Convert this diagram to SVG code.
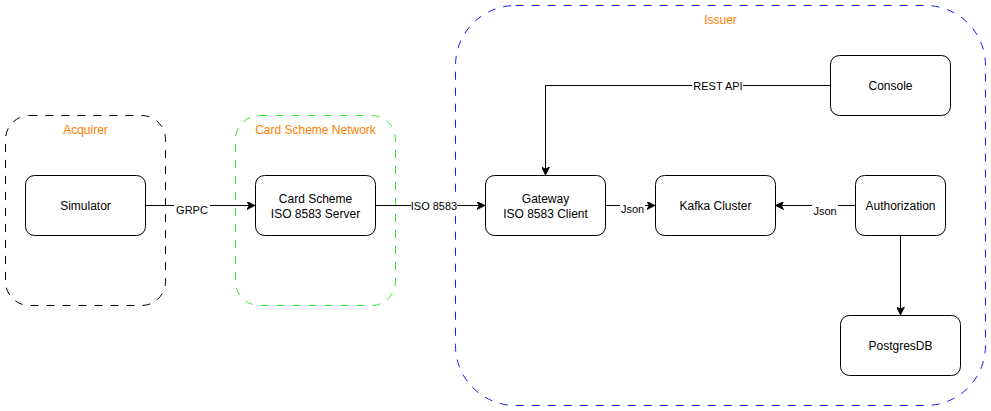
<svg xmlns="http://www.w3.org/2000/svg" width="991" height="411" viewBox="0 0 991 411">
<style>
.node{fill:#fff;stroke:#000;stroke-width:1}
.t{font-family:"Liberation Sans",Arial,sans-serif;font-size:12px;fill:#000;text-anchor:middle}
.lbl{font-family:"Liberation Sans",Arial,sans-serif;font-size:11px;fill:#000;text-anchor:middle}
.ct{font-family:"Liberation Sans",Arial,sans-serif;font-size:12px;fill:#FF8000;text-anchor:middle}
.edge{fill:none;stroke:#000;stroke-width:1}
.lb{fill:#fff}
.grp{fill:none;stroke-dasharray:8 8}
</style>
<defs>
<marker id="arr" viewBox="0 0 10 10" refX="10" refY="5" markerWidth="8" markerHeight="8" markerUnits="userSpaceOnUse" orient="auto">
<path d="M0,0 L10,5 L0,10 L2.5,5 Z" fill="#000" stroke="#000" stroke-width="1"/>
</marker>
</defs>
<rect width="991" height="411" fill="#fff"/>
<g id="acquirer">
<rect class="grp" x="5.5" y="115.5" width="160" height="190" rx="24" ry="24" stroke="#000"/>
<text class="ct" x="85.5" y="134">Acquirer</text>
</g>
<g id="cardSchemeNetwork">
<rect class="grp" x="235.5" y="115.5" width="160" height="190" rx="24" ry="24" stroke="#00E000" stroke-width="0.8"/>
<text class="ct" x="315.5" y="134">Card Scheme Network</text>
</g>
<g id="issuer">
<rect class="grp" x="455.5" y="5.5" width="530" height="400" rx="60" ry="60" stroke="#1a1aff"/>
<text class="ct" x="720.5" y="24">Issuer</text>
</g>
<g id="connectors">
<path class="edge" d="M145.5,205.5 H255" marker-end="url(#arr)"/>
<rect class="lb" x="174" y="203" width="36" height="13"/>
<text class="lbl" x="192" y="214">GRPC</text>
<path class="edge" d="M375.5,205.5 H485" marker-end="url(#arr)"/>
<rect class="lb" x="411" y="199" width="46" height="13"/>
<text class="lbl" x="434" y="210">ISO 8583</text>
<path class="edge" d="M605.5,205.5 H655" marker-end="url(#arr)"/>
<rect class="lb" x="620" y="202" width="25" height="13"/>
<text class="lbl" x="632.5" y="213">Json</text>
<path class="edge" d="M855.5,205.5 H775.5" marker-end="url(#arr)"/>
<rect class="lb" x="812" y="204" width="26" height="13"/>
<text class="lbl" x="825" y="215">Json</text>
<path class="edge" d="M830.5,85.5 H545.5 V175" marker-end="url(#arr)"/>
<rect class="lb" x="692" y="79" width="51" height="13"/>
<text class="lbl" x="718" y="90">REST API</text>
<path class="edge" d="M900.5,235.5 V315" marker-end="url(#arr)"/>
</g>
<g id="simulator">
<rect class="node" x="25.5" y="175.5" width="120" height="60" rx="9" ry="9"/>
<text class="t" x="85.5" y="210">Simulator</text>
</g>
<g id="cardScheme">
<rect class="node" x="255.5" y="175.5" width="120" height="60" rx="9" ry="9"/>
<text class="t" x="315.5" y="203">Card Scheme</text>
<text class="t" x="315.5" y="218">ISO 8583 Server</text>
</g>
<g id="gateway">
<rect class="node" x="485.5" y="175.5" width="120" height="60" rx="9" ry="9"/>
<text class="t" x="545.5" y="203">Gateway</text>
<text class="t" x="545.5" y="218">ISO 8583 Client</text>
</g>
<g id="kafka">
<rect class="node" x="655.5" y="175.5" width="120" height="60" rx="9" ry="9"/>
<text class="t" x="715.5" y="210">Kafka Cluster</text>
</g>
<g id="authorization">
<rect class="node" x="855.5" y="175.5" width="90" height="60" rx="9" ry="9"/>
<text class="t" x="900.5" y="210">Authorization</text>
</g>
<g id="console">
<rect class="node" x="830.5" y="55.5" width="120" height="60" rx="9" ry="9"/>
<text class="t" x="890.5" y="90">Console</text>
</g>
<g id="postgres">
<rect class="node" x="840.5" y="315.5" width="120" height="60" rx="9" ry="9"/>
<text class="t" x="900.5" y="350">PostgresDB</text>
</g>
</svg>
